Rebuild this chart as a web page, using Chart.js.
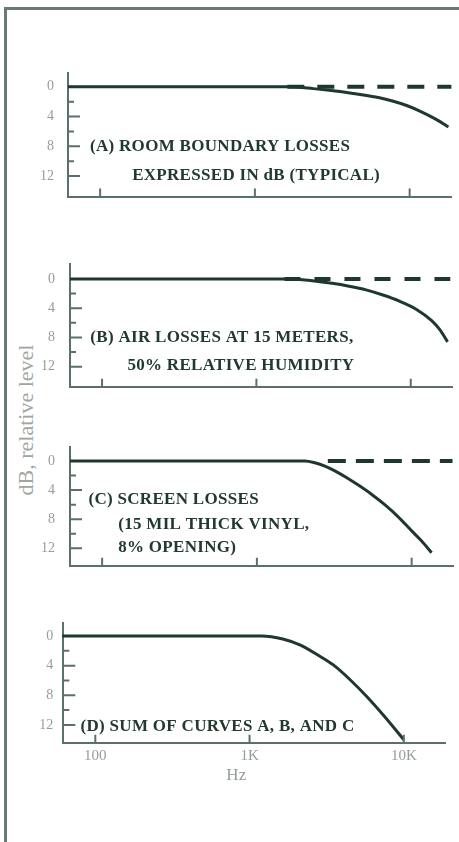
<!DOCTYPE html>
<html><head><meta charset="utf-8">
<script src="https://cdn.jsdelivr.net/npm/chart.js@4.4.0/dist/chart.umd.min.js"></script>
<style>
html,body{margin:0;padding:0;background:#fff;width:459px;height:842px;overflow:hidden;position:relative;}
#frame{position:absolute;left:4px;top:7px;width:470px;height:850px;border-left:3px solid #687a71;border-top:3px solid #687a71;}
canvas{position:absolute;left:0;}
#ytitle{position:absolute;left:26px;top:420px;transform:translate(-50%,-50%) rotate(-90deg);font:22px "Liberation Serif","DejaVu Serif",serif;color:#9ea6a2;white-space:nowrap;}
</style></head><body>
<div id="frame"></div>
<div id="ytitle">dB, relative level</div>
<canvas id="cA"></canvas>
<canvas id="cB"></canvas>
<canvas id="cC"></canvas>
<canvas id="cD"></canvas>
<script>
// ---------- data ----------
const freqTicks = [100, 1000, 10000];
const freqTickLabels = ['100', '1K', '10K'];
const dbTicks = [0, 4, 8, 12];
const dbMinorTicks = [2, 6, 10];
const dbMajorTicks = [4, 8, 12];
const xAxisTitle = 'Hz';

// (A) room boundary losses
const aSolidHz = [62, 1693, 2384, 3210, 5018, 6276, 7846, 9663, 11730, 14440, 17800];
const aSolidDb = [0, 0, 0.25, 0.55, 1.1, 1.45, 1.95, 2.55, 3.3, 4.25, 5.4];
const aDashHz = [1620, 18600];
const aDashDb = [0, 0];
const aNotes = ['(A) ROOM BOUNDARY LOSSES', 'EXPRESSED IN dB (TYPICAL)'];
const aNoteHz = [86, 161];
const aNoteDb = [8.1, 11.9];

// (B) air losses
const bSolidHz = [62, 1636, 2301, 3096, 3984, 5129, 6601, 8369, 10770, 13660, 15380, 17320];
const bSolidDb = [0, 0, 0.25, 0.6, 1.0, 1.5, 2.2, 3.0, 4.1, 5.7, 6.9, 8.6];
const bDashHz = [1520, 18030];
const bDashDb = [0, 0];
const bNotes = ['(B) AIR LOSSES AT 15 METERS,', '50% RELATIVE HUMIDITY'];
const bNoteHz = [84, 146];
const bNoteDb = [8.07, 11.8];

// (C) screen losses
const cSolidHz = [62, 2044, 2371, 2750, 3189, 3811, 4622, 5524, 6699, 8124, 10000, 11600, 13450];
const cSolidDb = [0, 0, 0.25, 0.7, 1.35, 2.3, 3.45, 4.6, 6.0, 7.6, 9.6, 11.0, 12.6];
const cDashHz = [2874, 18370];
const cDashDb = [0, 0];
const cNotes = ['(C) SCREEN LOSSES', '(15 MIL THICK VINYL,', '8% OPENING)'];
const cNoteHz = [81.6, 127, 127];
const cNoteDb = [5.36, 8.8, 11.95];

// (D) sum of curves
const dSolidHz = [61, 1197, 1642, 2120, 2736, 3491, 4487, 5770, 7596, 10000];
const dSolidDb = [0, 0, 0.4, 1.2, 2.5, 3.9, 5.9, 8.2, 11.0, 14.0];
const dNotes = ['(D) SUM OF CURVES A, B, AND C'];
const dNoteHz = [80.2];
const dNoteDb = [12.26];

// ---------- layout / style ----------
const INK = '#1f382d', AXIS = '#5a7266', LABEL = '#959d99', TEXT = '#22392e';
const SERIF = '"Liberation Serif","DejaVu Serif",serif';
const X_MIN = 62, X_MAX = 18500;
const HZ_TITLE_AT = 820;

function pts(xs, ys) { return xs.map((x, i) => ({x: x, y: ys[i]})); }

function makePanel(id, g, sets, notes, showX) {
  const canvas = document.getElementById(id);
  const cTop = Math.floor(g.top) - 10;
  const padTop = g.top - cTop;
  const xh = showX ? 62 : 8;
  const H = Math.ceil(g.bottom - cTop + xh);
  const xScaleH = H - (g.bottom - cTop);
  canvas.style.top = cTop + 'px';
  canvas.width = 459; canvas.height = H;
  canvas.style.width = '459px'; canvas.style.height = H + 'px';

  const plugin = {
    id: 'panel' + id,
    afterDatasetsDraw(chart) {
      const {ctx, chartArea: a, scales: {x, y}} = chart;
      ctx.save();
      ctx.strokeStyle = AXIS; ctx.lineWidth = 2; ctx.lineCap = 'butt';
      ctx.beginPath();
      dbMajorTicks.forEach(v => { const py = y.getPixelForValue(v); ctx.moveTo(a.left, py); ctx.lineTo(a.left + 12, py); });
      dbMinorTicks.forEach(v => { const py = y.getPixelForValue(v); ctx.moveTo(a.left, py); ctx.lineTo(a.left + 6, py); });
      freqTicks.forEach(v => { const px = x.getPixelForValue(v); ctx.moveTo(px, a.bottom); ctx.lineTo(px, a.bottom - 8); });
      ctx.stroke();
      ctx.fillStyle = TEXT; ctx.font = 'bold 17px ' + SERIF;
      if ('letterSpacing' in ctx) ctx.letterSpacing = '0.3px';
      ctx.textBaseline = 'middle'; ctx.textAlign = 'left';
      notes.text.forEach((t, i) => ctx.fillText(t, x.getPixelForValue(notes.hz[i]), y.getPixelForValue(notes.db[i])));
      if ('letterSpacing' in ctx) ctx.letterSpacing = '0px';
      if (showX) {
        ctx.fillStyle = LABEL; ctx.font = '17px ' + SERIF; ctx.textAlign = 'center';
        ctx.fillText(xAxisTitle, x.getPixelForValue(HZ_TITLE_AT), a.bottom + 33);
      }
      ctx.restore();
    }
  };

  const datasets = sets.map(s => ({
    data: s.data, borderColor: INK, borderWidth: s.dash ? 4 : 3, borderDash: s.dash || [],
    pointRadius: 0, fill: false, cubicInterpolationMode: 'monotone', borderCapStyle: 'butt', clip: false
  }));

  return new Chart(canvas, {
    type: 'line',
    data: {datasets: datasets},
    plugins: [plugin],
    options: {
      responsive: false, animation: false, events: [],
      layout: {padding: {top: padTop, right: 459 - g.right, left: 0, bottom: 0}},
      plugins: {legend: {display: false}, tooltip: {enabled: false}, title: {display: false}},
      scales: {
        x: {
          type: 'logarithmic', min: X_MIN, max: X_MAX, bounds: 'data',
          afterBuildTicks: s => { s.ticks = freqTicks.map(v => ({value: v})); },
          afterFit: s => { s.height = xScaleH; s.paddingLeft = 0; s.paddingRight = 0; },
          grid: {display: true, drawOnChartArea: false, drawTicks: false},
          border: {display: true, color: AXIS, width: 2},
          ticks: {display: showX, autoSkip: false, maxRotation: 0, padding: 4, color: LABEL,
                  font: {family: SERIF, size: 15}, callback: (v, i) => freqTickLabels[i]}
        },
        y: {
          type: 'linear', reverse: true, min: g.yMin, max: g.yMax, bounds: 'data',
          afterBuildTicks: s => { s.ticks = dbTicks.map(v => ({value: v})); },
          afterFit: s => { s.width = g.left; s.paddingTop = 0; s.paddingBottom = 0; },
          grid: {display: true, drawOnChartArea: false, drawTicks: false},
          border: {display: true, color: AXIS, width: 2},
          ticks: {padding: g.lp, color: LABEL, font: {family: SERIF, size: 14}, callback: v => String(v)}
        }
      }
    }
  });
}

makePanel('cA', {left: 68, right: 451, top: 73, bottom: 196.5, yMin: -1.85, yMax: 14.75, lp: 14},
  [{data: pts(aSolidHz, aSolidDb)}, {data: pts(aDashHz, aDashDb), dash: [17, 13]}],
  {text: aNotes, hz: aNoteHz, db: aNoteDb}, false);
makePanel('cB', {left: 70, right: 452, top: 264.3, bottom: 386.7, yMin: -2.0, yMax: 14.73, lp: 15},
  [{data: pts(bSolidHz, bSolidDb)}, {data: pts(bDashHz, bDashDb), dash: [16, 14]}],
  {text: bNotes, hz: bNoteHz, db: bNoteDb}, false);
makePanel('cC', {left: 70, right: 453, top: 446.7, bottom: 565.7, yMin: -1.96, yMax: 14.38, lp: 15},
  [{data: pts(cSolidHz, cSolidDb)}, {data: pts(cDashHz, cDashDb), dash: [18, 10]}],
  {text: cNotes, hz: cNoteHz, db: cNoteDb}, false);
makePanel('cD', {left: 63.3, right: 445, top: 622.7, bottom: 742.7, yMin: -1.8, yMax: 14.4, lp: 10},
  [{data: pts(dSolidHz, dSolidDb)}],
  {text: dNotes, hz: dNoteHz, db: dNoteDb}, true);
</script>
</body></html>
